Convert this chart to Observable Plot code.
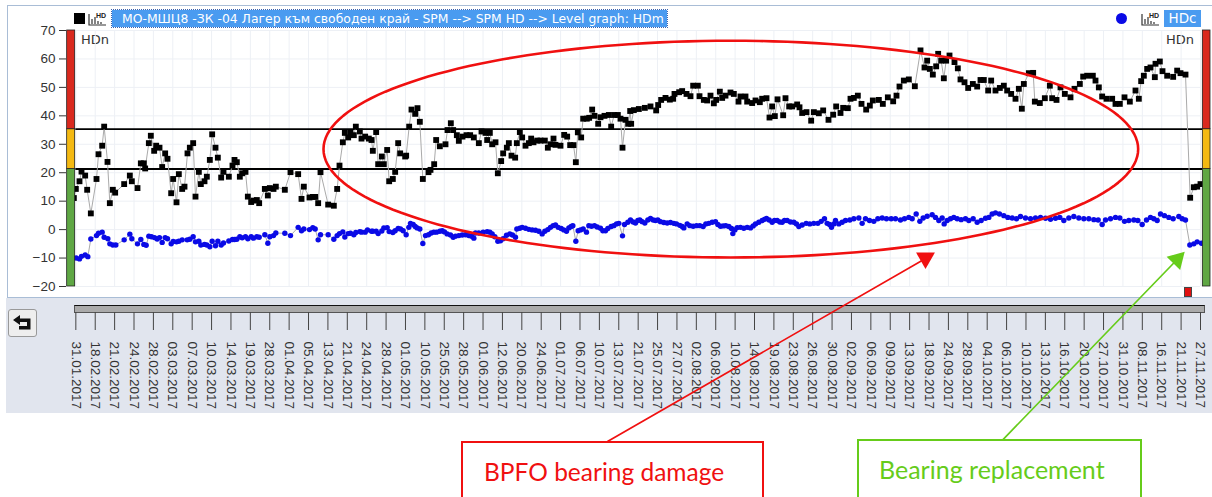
<!DOCTYPE html>
<html><head><meta charset="utf-8">
<script src="https://cdn.jsdelivr.net/npm/d3@7"></script>
<script src="https://cdn.jsdelivr.net/npm/@observablehq/plot@0.6"></script>
<style>
html,body{margin:0;padding:0;background:#fff;overflow:hidden}
#stage{position:relative;width:1212px;height:497px;overflow:hidden;font-family:"Liberation Sans",sans-serif}
#stage>div,#stage>svg{position:absolute}
#plot{left:0;top:0}
#plot svg{display:block;background:transparent}
.ico{position:absolute}
</style></head><body>
<div id="stage">
<div style="left:7px;top:5px;width:1210px;height:291px;border:1px solid #a9bdd6;background:#fff"></div>
<div style="left:6px;top:298px;width:1206px;height:115px;background:#e1e5ee"></div>
<div style="left:112px;top:10px;width:555px;height:17px;background:#4a9bf0;outline:1px dotted #3a62b0;color:#fff;font:12.4px/17px 'DejaVu Sans';white-space:pre;text-indent:10px;overflow:hidden">МО-МШЦ8 -ЗК -04 Лагер към свободен край - SPM --> SPM HD --> Level graph: HDm</div>
<div style="left:74px;top:13px;width:11px;height:11px;background:#000"></div>
<svg class="ico" style="left:88px;top:11px" width="20" height="15"><path d="M1 3V14H18M4 8V13M7 6V13M10 10V13M13 11V13" fill="none" stroke="#333" stroke-width="1.2"/><text x="8" y="7" font-family="Liberation Sans" font-size="7" font-weight="bold" fill="#222">HD</text></svg>
<div style="left:1116px;top:13px;width:11px;height:11px;border-radius:50%;background:#0a0ae6"></div>
<svg class="ico" style="left:1141px;top:11px" width="20" height="15"><path d="M1 3V14H18M4 8V13M7 6V13M10 10V13M13 11V13" fill="none" stroke="#333" stroke-width="1.2"/><text x="8" y="7" font-family="Liberation Sans" font-size="7" font-weight="bold" fill="#222">HD</text></svg>
<div style="left:1164px;top:10px;width:37px;height:17px;background:#4a9bf0;color:#fff;font:13.5px/17px 'DejaVu Sans';text-align:center">HDc</div>
<div style="left:81px;top:32px;font:13px/16px 'DejaVu Sans';color:#333">HDn</div>
<div style="left:1166px;top:32px;font:13px/16px 'DejaVu Sans';color:#333">HDn</div>
<div style="left:1184px;top:287px;width:6px;height:8px;background:#e01010;border:1px solid #444"></div>
<div style="left:74px;top:305px;width:1129px;height:6px;background:#aaa;border:1px solid #555;border-top-color:#111"></div>
<div style="left:8px;top:309px;width:27px;height:26px;border:1px solid #999;border-radius:3px;background:#eee"></div>
<svg class="ico" style="left:12px;top:314px" width="20" height="17"><path d="M8 1L1 6L8 11V8H15V12H7V15.5H18.5V4.5H8Z" fill="#111"/></svg>
<div id="plot"></div>
<div style="left:461px;top:441px;width:299px;height:70px;border:2px solid #f01010;background:#fff;color:#f01010;font:24.5px/58px Lato;text-indent:21px;white-space:pre">BPFO bearing damage</div>
<div style="left:857px;top:439px;width:281px;height:70px;border:2px solid #66cc1a;background:#fff;color:#66cc1a;font:25px/56px Lato;text-indent:20px;white-space:pre">Bearing replacement</div>
</div>
<script>
const hdnPosA=[220,226,237,243,254,260,271,288,294,305,311,321,328,337,344,371,388,394,411,421,430,434,445,451,461,467,477,485,494,501,512,518,528,535,545,552,561,568,578,585,595,601,612,619,628,635,645,652,662,669,685,696,702,709,718,725,735,742,752,759,769,776,793,802,808,819,826,853,870,893,903,910,927,937,944,953,960,983,1000,1010,1017,1027,1033,1043,1050,1060,1066,1078,1083,1094,1105,1113,1117,1127,1133,1144,1150,1160,1166,1177,1184,1193,1199];
const hdnValA=[11.1,14.3,17,20.4,19,14,5.7,17.8,26.5,29.5,36.2,23.8,9.3,14,13,16,19,17,14.6,23.3,23.3,21.5,30.4,33,27.7,29.5,28.8,22,26.8,24.9,12.8,17.8,9.6,19.5,14.3,15.1,26.8,28.8,30.4,11.6,20.3,16,17,18.6,24.5,33.5,28.8,25.3,18.3,20.3,18.6,22.5,24.5,23.7,18.6,19.8,20.3,11.6,9.7,10.2,10.4,9.3,14.3,12,14.6,14.3,15.1,14,20.2,19.5,10.8,15.1,11.3,11.5,11.5,9.3,20.2,8.8,8.4,14.3,22.5,30.7,34,32.4,34,33.2,36.2,34.5,32,32.7,32,31.5,27.7,34.3,23,25.7,23,28,17,17.8,20.3,30.4,26.8];
const hdnPosB=[14,17,26,33,44,51,58,67,84,90,101,107,118,135,141,151,158,169,175,186,198,209,220,235,243,255,260,268,275,285,292,302,308,319,325,333,344,349,358,365,375,385,392,399,410,420,433,442,450,459,465,480,491,500,509,519,526,532,542,548,559,566,575,582,593,600,612,625,632,641,652,660,666,675,683,689,692,700,715,733,750,767,773,782,795,808,818,822,836,845,858,870,878,892,897,910,920,930,940,947,958,965,975,990,1000,1014,1020,1035,1040,1055,1065,1078,1085,1098,1107,1115,1123,1131,1148,1155,1166,1175,1190,1197];
const hdnValB=[25.7,26,36.2,42.2,40.7,42.7,37.9,17.8,20.2,21,23,31.5,29.3,30,35,37.4,35,33.2,31.2,32.7,33.2,33.2,32.4,30.4,34.5,34,31.5,34,30,30.7,19.8,24.1,26.8,28.8,30.4,26,25.3,30.4,34.3,32.4,29.5,30.4,32,30.7,31.3,31.3,31.3,28.8,30,32,29.8,29.5,33.3,32.7,29.7,29.7,23.7,34.2,32.4,39,39,39.3,42.2,40,37.2,39.5,40,40.3,36.2,40.3,40.3,39,28.8,38.6,37.2,41.7,37.2,42,42.4,42.8,43.3,41.9,43.8,45.6,46.3,45.7,46,47.7,48.3,48.7,47.7,46.9,50.6,50.6,46.9,45.6,45.4,47.1,44.4,45.6,48.5,46.3,47.1,48.2,47.7,45,46.8,46.8,45,44.5,45.4,44.8,46,46.2,39.4,43.3,39.9,45.8,40.2,46.2,43.3,43.3,44,43];
const hdnPosC=[5,18,32,40,55,68,84,98,107,120,128,142,150,160,172,183,197,208,217,235,247,262,278,288,297,310,325,343,360,372,380,388,397,407,413,422,430,437,447,462,472,480,492,503,517,530,540,550,563,572,585,598,610,620,632,645,655,664,670,685,698,703,718,733,748,755,768,780,793,810,822,838,848,860,877,885,895,905,918,935,945,958,972,988,1005,1015,1022,1030,1040,1050,1063,1065,1078,1086,1100,1118,1130,1140,1155,1169,1180,1190,1200];
const hdnValC=[41,41.3,38.3,41.3,40.9,41.9,38.6,40.4,43.3,41,42.8,42.7,46,46.3,47.1,44.2,42.2,43.6,45.4,45.6,44.2,46.5,45.1,47.1,50.3,52.4,52.8,50.4,63,57,59.4,56.5,54.5,57.4,61.8,59.4,53.2,59.4,61.2,58.9,56.7,52.8,51.8,49.8,51.2,50.3,52.6,52.6,48.9,52.4,48.9,49.8,50.6,48.9,47.7,46,49.5,42.5,51.2,55,55.1,45,44.5,46.2,50.6,46.2,45.6,50,47.7,46.5,49.5,51.2,53.8,54.1,54.1,52.4,50,46.8,46,46,44.2,44.2,46.5,45,48.9,46,52.2,54.1,56.5,57,53.6,58.3,59.1,55.7,54.1,53.7,55.9,55,54.5,11.2,14.9,15.1,16];
const hdcPosA=[227,237,243,254,262,271,288,294,305,311,322,328,337,346,371,388,394,411,421,430,437,445,453,462,470,477,485,494,501,512,518,528,535,545,560,568,578,585,595,601,612,619,628,635,645,652,662,669,685,696,702,709,718,725,735,742,752,759,769,776,793,802,808,819,826,853,870,893,903,910,927,937,944,953,960,983,1000,1010,1017,1027,1033,1043,1050,1060,1066,1078,1083,1094,1101,1113,1117,1127,1133,1144,1150,1160,1166,1177,1184,1193];
const hdcValA=[-10,-10.3,-9.4,-8.9,-9.5,-3.3,-2.1,-1.3,-0.9,-2.7,-3.2,-5,-5.4,-5.4,-3.6,-1.6,-3.2,-5,-3.5,-5.2,-5.5,-2.3,-2.5,-2.8,-3.3,-2.8,-4.5,-2.8,-3.2,-5,-4.2,-4.3,-4.1,-3.6,-3.6,-3.4,-2.5,-4.3,-4.1,-5.4,-5.2,-5.4,-6,-4.1,-5.7,-4.1,-5.4,-4.7,-4,-3.5,-3.5,-3.4,-2.5,-2.9,-2.5,-3.2,-2.5,-3,-2.5,-2.7,-1.8,-4.8,-2.5,-2.1,-1.2,-1.3,-2.1,0.8,-0.4,0.2,0,0.7,0.2,-3.6,-1.8,-1.8,-3.4,-2.1,-1.4,-0.8,-2.6,-1.4,-1.3,-1.8,-1,-0.7,-0.9,-0.9,-0.1,-0.6,-0.6,-0.6,-1.4,-0.5,0.6,0.7,-0.7,-1,-0.4,0.4];
const hdcPosB=[0,8,17,25,30,38,44,50,58,67,75,84,92,100,108,118,125,132,140,150,158,165,175,185,195,205,213,220,225,235,248,260,268,275,283,292,300,308,318,328,336,345,349,358,365,375,385,395,405,415,425,433,442,450,458,465,473,482,490,498,505,512,517,526,533,540,548,558,565,573,582,590,600,607,615,622,632,640,648,655,666,672,682,690,698,705,712,718,725,733,742,750,758,765,772,780,790,800,810,820,828,838,845,850,860,868,878,888,898,908,916,925,935,945,952,960,968,976,985,993,997,1003,1010,1020,1030,1040,1050,1058,1065,1075,1085,1092,1098,1106,1115,1122,1130,1138,1145,1152,1160,1170,1180,1188,1195];
const hdcValB=[0.2,-0.4,-1.8,0.8,2.2,1.8,1.1,0.6,0.2,-4.9,-2.1,-1.8,-1.2,-0.9,-0.9,-0.6,-0.4,-0.8,-1.5,-1.9,-2.7,-2.3,-2.1,-1.9,-1.8,-2.1,-2.3,-3,-1.2,-1.2,-0.9,-0.7,-0.9,-1.5,-2.5,-4.1,-3.9,-3.2,-2,-1.5,-1.9,-2.7,0.2,0.5,0.8,0.5,0.1,-0.1,-0.2,-0.6,-1.5,-0.6,0,0.8,1.4,1.6,0.8,0.4,-0.1,-0.6,0.6,1.1,1.4,-4.1,-0.4,-0.1,0.2,-0.9,1.4,1.2,1.4,0.9,0.5,-0.4,-0.4,0.4,1.1,1.4,2,2.2,-2.2,1.8,2.6,3.4,2.7,2.3,3.2,3.4,2.8,2.3,3.4,3.9,3.4,3.2,3.4,2.8,2.5,2.3,2.5,2.2,2,1.5,1.1,0.6,2,1.4,1.2,1.4,1.4,1.1,2,2.2,2.6,2.8,1.8,1.2,1.3,1.4,1.1,0.4,-1.4,-0.1,0.7,0.8,0.5,0.8,0.6,1.3,2,2.6,3.2,3.6,3.9,3.4,2.6,3.2,3.2,2.7,2.6,3.2,3.2,2.7,2.6,2,1.1];
const hdcPosC=[5,17,28,40,52,62,72,80,87,93,100,105,115,125,135,148,160,175,185,195,207,220,232,245,258,272,285,300,312,325,335,347,358,368,380,395,405,415,425,431,440,450,460,470,482,495,505,518,530,542,555,565,575,585,597,610,622,635,648,660,675,690,705,720,735,750,765,778,790,805,820,835,850,865,880,893,905,915,930,945,958,972,985,1000,1012,1025,1038,1050,1060,1070,1080,1092,1105,1118,1135,1145,1155,1168,1180,1190,1203];
const hdcValC=[1.6,2.2,2,2.2,2.2,2.9,3.8,2.2,1.8,0.8,2,3.2,2,2.6,3.2,3.4,3.8,4.1,2.2,3.8,3.2,2.9,3.8,4.1,3.8,3.8,3.8,3.4,3.8,4.3,3.8,5.5,2.9,4.1,4.7,5.2,4.3,3.2,4.1,2,3.2,3.8,4.3,3.8,3.5,3.8,3.2,3.8,2.6,3.2,4,4.3,5.5,5.9,5.5,4.9,4.3,4.1,3.8,4.6,4.1,3.8,4.1,4.3,4,3.6,4,4.3,3.2,4.1,4.6,4.1,3.8,3.8,3.5,3.4,1.8,3.4,3.8,4.3,4.1,2.9,3.2,3.4,3.2,1.8,3.4,4.3,3.8,3.2,5.5,4.9,4.3,3.8,4.6,3.8,3.4,-5.4,-5,-4.3,-4.8];

const dateLabels=["31.01.2017","18.02.2017","21.02.2017","24.02.2017","28.02.2017","03.03.2017","07.03.2017","10.03.2017","14.03.2017","19.03.2017","28.03.2017","01.04.2017","05.04.2017","13.04.2017","21.04.2017","24.04.2017","28.04.2017","01.05.2017","10.05.2017","25.05.2017","28.05.2017","01.06.2017","12.06.2017","20.06.2017","24.06.2017","01.07.2017","06.07.2017","10.07.2017","13.07.2017","21.07.2017","25.07.2017","27.07.2017","02.08.2017","06.08.2017","10.08.2017","14.08.2017","19.08.2017","23.08.2017","26.08.2017","30.08.2017","02.09.2017","06.09.2017","09.09.2017","13.09.2017","18.09.2017","24.09.2017","28.09.2017","04.10.2017","06.10.2017","10.10.2017","13.10.2017","16.10.2017","20.10.2017","27.10.2017","31.10.2017","08.11.2017","16.11.2017","21.11.2017","27.11.2017"];
const valueTicks=[-20,-10,0,10,20,30,40,50,60,70];
const thresholds=[21.3,35.3];
const zones=[{lo:-20,hi:21.3,c:"#5fa744"},{lo:21.3,hi:35.3,c:"#f4b912"},{lo:35.3,hi:70,c:"#d9291e"}];

const first=226,last=3600;
const tickPos=dateLabels.map((_,i)=>first+i*(last-first)/(dateLabels.length-1));
const seq=(a,b,c)=>[...a,...b.map(d=>d+1200),...c.map(d=>d+2400)];
const rows=(p,v)=>p.map((pos,i)=>({pos,val:v[i]}));
const hdn=rows(seq(hdnPosA,hdnPosB,hdnPosC),[...hdnValA,...hdnValB,...hdnValC]);
const hdc=rows(seq(hdcPosA,hdcPosB,hdcPosC),[...hdcValA,...hdcValB,...hdcValC]);
const ring=d3.range(0,361,2).map(a=>({pos:2191+1222*Math.cos(a*Math.PI/180),val:28.3+38.1*Math.sin(a*Math.PI/180)}));
const bar=(x1,x2)=>Plot.rect(zones,{x1,x2,y1:"lo",y2:"hi",fill:"c",stroke:"#222",strokeWidth:0.8});

document.getElementById("plot").append(Plot.plot({
  width:1212,height:497,marginTop:30,marginBottom:185,marginLeft:66,marginRight:12,
  style:{background:"transparent",color:"#333",fontFamily:"'Liberation Sans',sans-serif"},
  x:{type:"linear",domain:[first,last],range:[first/3,last/3]},
  y:{domain:[-20,70],range:[286,30]},
  color:{type:"identity"},
  marks:[
    Plot.ruleX(tickPos,{y1:-20,y2:70,stroke:"#edf0f5",strokeWidth:1}),
    Plot.ruleY(valueTicks,{x1:first,x2:last,stroke:"#edf0f5",strokeWidth:1}),
    Plot.axisY({ticks:valueTicks,tickSize:7,tickPadding:4,fontSize:13.5,label:null,stroke:"#333"}),
    Plot.axisX({ticks:tickPos,tickFormat:(d,i)=>dateLabels[i],tickSize:18,tickPadding:11,tickRotate:90,fontSize:13.5,label:null,stroke:"#444"}),
    Plot.ruleY(thresholds,{x1:first,x2:3607,stroke:"#000",strokeWidth:1.8}),
    Plot.line(hdn,{x:"pos",y:"val",stroke:"#aaa",strokeWidth:1,curve:"linear"}),
    Plot.line(hdc,{x:"pos",y:"val",stroke:"#aaa",strokeWidth:1,curve:"linear"}),
    Plot.dot(hdc,{x:"pos",y:"val",r:2.7,fill:"#0a0ae6"}),
    Plot.dot(hdn,{x:"pos",y:"val",symbol:"square",r:3.3,fill:"#000"}),
    bar(200,224),bar(3607,3630),
    Plot.line(ring,{x:"pos",y:"val",stroke:"#f01010",strokeWidth:2.6}),
    Plot.line([{pos:1821,val:-74.5},{pos:2770,val:-10.5}],{x:"pos",y:"val",stroke:"#f01010",strokeWidth:1.7}),
    Plot.dot([{pos:2775,val:-10}],{x:"pos",y:"val",symbol:"triangle",r:7,fill:"#f01010",rotate:60}),
    Plot.line([{pos:3006,val:-74},{pos:3530,val:-10.5}],{x:"pos",y:"val",stroke:"#66cc1a",strokeWidth:1.7}),
    Plot.dot([{pos:3530,val:-10.5}],{x:"pos",y:"val",symbol:"triangle",r:7,fill:"#66cc1a",rotate:44}),
  ]
}));
</script>
</body></html>
